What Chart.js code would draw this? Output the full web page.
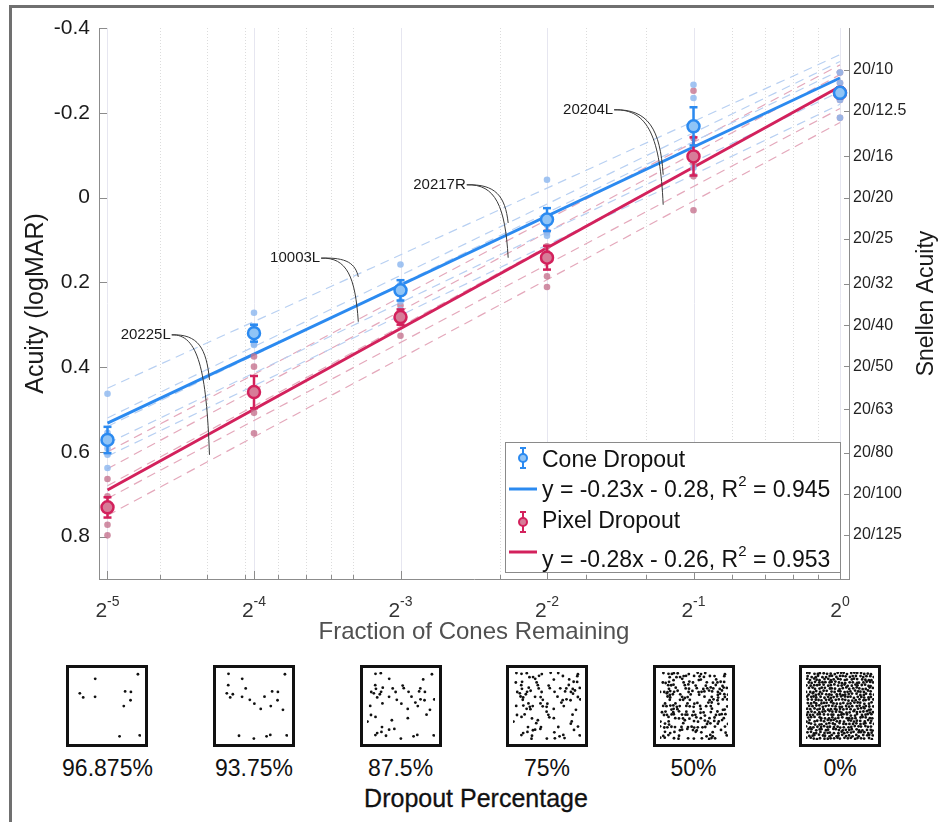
<!DOCTYPE html>
<html>
<head>
<meta charset="utf-8">
<title>Acuity vs cone dropout</title>
<script src="https://cdn.jsdelivr.net/npm/chart.js@4.4.1/dist/chart.umd.min.js"></script>
<style>
  body { margin: 0; background: #fff; }
  #page { position: relative; width: 940px; height: 822px; overflow: hidden; font-family: "Liberation Sans", Arial, sans-serif; }
  #main { position: absolute; left: 0; top: 0; }
  #frameTop { position: absolute; left: 9px; top: 5px; width: 925px; height: 3px; background: #707070; }
  #frameLeft { position: absolute; left: 9px; top: 5px; width: 3px; height: 820px; background: #707070; }
  .tile { position: absolute; top: 665px; border: 3px solid #111; background: #fff; }
  .tile canvas { display: block; }
  .pct { position: absolute; top: 755px; width: 140px; text-align: center; font-size: 23px; line-height: 26px; color: #111; }
  #dropTitle { position: absolute; left: 276px; top: 784px; width: 400px; text-align: center; font-size: 25px; line-height: 28px; color: #111; -webkit-text-stroke: 0.3px #111; }
</style>
</head>
<body>
<div id="page">
  <canvas id="main" width="940" height="660"></canvas>
  <div id="frameTop"></div>
  <div id="frameLeft"></div>
  <div id="tiles"></div>
  <div id="dropTitle">Dropout Percentage</div>
</div>
<script>
"use strict";

// --- data ---
const fractions = [1 / 32, 1 / 16, 1 / 8, 1 / 4, 1 / 2, 1];   // fraction of cones remaining
const xTickExps = [-5, -4, -3, -2, -1, 0];
const minorGrid = [0.04, 0.05, 0.06, 0.07, 0.08, 0.09, 0.1, 0.2, 0.3, 0.4, 0.6, 0.7, 0.8, 0.9];

const yTicks = [-0.4, -0.2, 0, 0.2, 0.4, 0.6, 0.8];
const yTickLabels = ["-0.4", "-0.2", "0", "0.2", "0.4", "0.6", "0.8"];
const snellenLogMAR = [-0.301, -0.204, -0.097, 0, 0.097, 0.204, 0.301, 0.398, 0.5, 0.602, 0.699, 0.796];
const snellenLabels = ["20/10", "20/12.5", "20/16", "20/20", "20/25", "20/32", "20/40", "20/50", "20/63", "20/80", "20/100", "20/125"];

// single-subject acuity (logMAR), one row per fraction
const coneSubj = [
    [0.463, 0.555, 0.592, 0.607, 0.638],
    [0.272, 0.305, 0.330, 0.348, 0.345],
    [0.158, 0.205, 0.220, 0.245, 0.265],
    [-0.042, 0.045, 0.065, 0.083, 0.090],
    [-0.266, -0.235, -0.170, -0.100, -0.070],
    [-0.295, -0.270, -0.250, -0.230, -0.188]
];
const pixelSubj = [
    [0.664, 0.705, 0.725, 0.772, 0.797],
    [0.375, 0.399, 0.460, 0.508, 0.556],
    [0.255, 0.270, 0.280, 0.295, 0.326],
    [0.080, 0.115, 0.130, 0.186, 0.211],
    [-0.252, -0.140, -0.080, -0.050, 0.030],
    [-0.295, -0.270, -0.250, -0.230, -0.188]
];
const coneMean = [0.572, 0.320, 0.219, 0.052, -0.168, -0.247];
const coneErr = [0.031, 0.020, 0.024, 0.027, 0.045, 0.012];
const pixelMean = [0.731, 0.459, 0.282, 0.142, -0.097, -0.247];
const pixelErr = [0.024, 0.038, 0.018, 0.028, 0.045, 0.012];

// fit lines: value at 2^-5 and at 2^0
const coneFit = [0.532, -0.282];
const pixelFit = [0.690, -0.262];
const coneSubjFits = [[0.45, -0.337], [0.52, -0.321], [0.54, -0.300], [0.58, -0.250], [0.61, -0.220]];
const pixelSubjFits = [[0.60, -0.313], [0.64, -0.290], [0.68, -0.260], [0.71, -0.210], [0.75, -0.177]];

const legendNames = ["Cone Dropout", "Pixel Dropout"];
const fitTexts = [["y = -0.23x - 0.28, R", "2", " = 0.945"], ["y = -0.28x - 0.26, R", "2", " = 0.953"]];

// subject call-outs: label at [log2 x, logMAR], arcs to two points
const callouts = [
    { label: "20225L", at: [-4.91, 0.324], to: [[-4.304, 0.430], [-4.304, 0.607]] },
    { label: "10003L", at: [-3.89, 0.143], to: [[-3.288, 0.187], [-3.288, 0.293]] },
    { label: "20217R", at: [-2.913, -0.030], to: [[-2.265, 0.060], [-2.265, 0.142]] },
    { label: "20204L", at: [-1.89, -0.207], to: [[-1.207, -0.054], [-1.207, 0.017]] }
];

const tileDropout = [96.875, 93.75, 87.5, 75, 50, 0];
const tileLabels = ["96.875%", "93.75%", "87.5%", "75%", "50%", "0%"];

// --- styles ---
const FONT = '"Liberation Sans", Arial, sans-serif';
const BLUE = "#2b8af0", BLUE_FILL = "#90c4f6", BLUE_DOT = "rgba(145,186,240,0.85)", BLUE_DASH = "#b8d0f2";
const RED = "#d3215c", RED_FILL = "#d77c98", RED_DOT = "rgba(198,115,142,0.8)", RED_DASH = "#e4a8bb";
Chart.defaults.font.family = FONT;

const meanPts = arr => fractions.map((f, i) => ({ x: f, y: arr[i] }));
const subjPts = rows => fractions.flatMap((f, i) => rows[i].map(v => ({ x: f, y: v })));
const endPts = pair => [{ x: fractions[0], y: pair[0] }, { x: fractions[fractions.length - 1], y: pair[1] }];

function seg(ctx, x1, y1, x2, y2) {
    ctx.beginPath();
    ctx.moveTo(x1, y1);
    ctx.lineTo(x2, y2);
    ctx.stroke();
}

function errIcon(ctx, x, y, color, fill) {
    ctx.strokeStyle = color;
    ctx.lineWidth = 2;
    seg(ctx, x, y - 10, x, y + 10);
    seg(ctx, x - 3, y - 10, x + 3, y - 10);
    seg(ctx, x - 3, y + 10, x + 3, y + 10);
    ctx.beginPath();
    ctx.arc(x, y, 4, 0, Math.PI * 2);
    ctx.fillStyle = fill;
    ctx.fill();
    ctx.stroke();
}

function supText(ctx, parts, x, y) {
    ctx.textAlign = "left";
    ctx.textBaseline = "alphabetic";
    ctx.font = "23px " + FONT;
    ctx.fillText(parts[0], x, y);
    x += ctx.measureText(parts[0]).width;
    ctx.font = "15px " + FONT;
    ctx.fillText(parts[1], x, y - 11);
    x += ctx.measureText(parts[1]).width;
    ctx.font = "23px " + FONT;
    ctx.fillText(parts[2], x, y);
}

const decor = {
    id: "decor",
    beforeDatasetsDraw(chart) {
        const { ctx, chartArea: a, scales: { x, y } } = chart;
        ctx.save();
        ctx.lineWidth = 1;
        // vertical grid
        ctx.strokeStyle = "#dcdcdc";
        ctx.setLineDash([1, 2]);
        minorGrid.forEach(v => {
            const px = Math.round(x.getPixelForValue(v)) + 0.5;
            seg(ctx, px, a.top, px, a.bottom);
        });
        ctx.setLineDash([]);
        ctx.strokeStyle = "#e6e6f0";
        xTickExps.forEach(e => {
            const px = Math.round(x.getPixelForValue(Math.pow(2, e))) + 0.5;
            seg(ctx, px, a.top, px, a.bottom);
        });
        // inward tick marks
        ctx.strokeStyle = "#8c8c8c";
        yTicks.forEach(v => {
            const py = Math.round(y.getPixelForValue(v)) + 0.5;
            seg(ctx, a.left, py, a.left + 8, py);
        });
        snellenLogMAR.forEach(v => {
            const py = Math.round(y.getPixelForValue(v)) + 0.5;
            seg(ctx, a.right - 5, py, a.right, py);
        });
        xTickExps.forEach(e => {
            const px = Math.round(x.getPixelForValue(Math.pow(2, e))) + 0.5;
            seg(ctx, px, a.bottom, px, a.bottom - 8);
        });
        minorGrid.forEach(v => {
            const px = Math.round(x.getPixelForValue(v)) + 0.5;
            seg(ctx, px, a.bottom, px, a.bottom - 4);
        });
        ctx.restore();
    },
    beforeDatasetDraw(chart, args) {
        const ds = chart.data.datasets[args.index];
        if (!ds.errors) return;
        const { ctx, scales: { x, y } } = chart;
        ctx.save();
        ctx.strokeStyle = ds.pointBorderColor;
        ctx.lineWidth = 2.5;
        ds.data.forEach((p, i) => {
            const px = x.getPixelForValue(p.x);
            const y1 = y.getPixelForValue(p.y - ds.errors[i]);
            const y2 = y.getPixelForValue(p.y + ds.errors[i]);
            seg(ctx, px, y1, px, y2);
            seg(ctx, px - 4, y1, px + 4, y1);
            seg(ctx, px - 4, y2, px + 4, y2);
        });
        ctx.restore();
    },
    afterDatasetsDraw(chart) {
        const { ctx, scales: { x, y } } = chart;
        ctx.save();
        ctx.font = "15px " + FONT;
        ctx.textAlign = "left";
        ctx.textBaseline = "middle";
        callouts.forEach(c => {
            const tx = x.getPixelForValue(Math.pow(2, c.at[0]));
            const ty = y.getPixelForValue(c.at[1]);
            ctx.fillStyle = "#1a1a1a";
            ctx.fillText(c.label, tx, ty);
            const sx = tx + ctx.measureText(c.label).width + 1;
            ctx.strokeStyle = "#3a3a3a";
            ctx.lineWidth = 1;
            c.to.forEach(t => {
                const ex = x.getPixelForValue(Math.pow(2, t[0]));
                const ey = y.getPixelForValue(t[1]);
                ctx.beginPath();
                ctx.moveTo(sx, ty);
                ctx.bezierCurveTo(sx + (ex - sx) * 0.7, ty - 1, ex - 3, ty + (ey - ty) * 0.3, ex, ey);
                ctx.stroke();
            });
        });
        ctx.restore();
    },
    afterDraw(chart) {
        const { ctx, chartArea: a, scales: { x } } = chart;
        ctx.save();
        // x tick labels 2^k
        ctx.fillStyle = "#333";
        ctx.textBaseline = "alphabetic";
        ctx.textAlign = "left";
        xTickExps.forEach(e => {
            const px = x.getPixelForValue(Math.pow(2, e));
            ctx.font = "21px " + FONT;
            const wb = ctx.measureText("2").width;
            ctx.font = "14px " + FONT;
            const ws = ctx.measureText(String(e)).width;
            const x0 = px - (wb + ws) / 2;
            ctx.font = "21px " + FONT;
            ctx.fillText("2", x0, a.bottom + 38);
            ctx.font = "14px " + FONT;
            ctx.fillText(String(e), x0 + wb, a.bottom + 27);
        });
        // axis titles
        ctx.textAlign = "center";
        ctx.font = "24px " + FONT;
        ctx.fillStyle = "#505050";
        ctx.fillText("Fraction of Cones Remaining", (a.left + a.right) / 2, a.bottom + 60);
        ctx.fillStyle = "#1a1a1a";
        ctx.font = "25px " + FONT;
        ctx.save();
        ctx.translate(43, (a.top + a.bottom) / 2);
        ctx.rotate(-Math.PI / 2);
        ctx.fillText("Acuity (logMAR)", 0, 0);
        ctx.restore();
        ctx.font = "23px " + FONT;
        ctx.save();
        ctx.translate(933, (a.top + a.bottom) / 2);
        ctx.rotate(-Math.PI / 2);
        ctx.fillText("Snellen Acuity", 0, 0);
        ctx.restore();
        // legend
        ctx.fillStyle = "#fff";
        ctx.fillRect(505.5, 442.5, 335, 130);
        ctx.strokeStyle = "#8a8a8a";
        ctx.lineWidth = 1;
        ctx.strokeRect(505.5, 442.5, 335, 130);
        errIcon(ctx, 523, 458, BLUE, BLUE_FILL);
        errIcon(ctx, 523, 522, RED, RED_FILL);
        ctx.lineWidth = 3;
        ctx.strokeStyle = BLUE;
        seg(ctx, 509, 489, 537, 489);
        ctx.strokeStyle = RED;
        seg(ctx, 509, 552, 537, 552);
        ctx.fillStyle = "#111";
        ctx.font = "23px " + FONT;
        ctx.textAlign = "left";
        ctx.fillText(legendNames[0], 542, 467);
        ctx.fillText(legendNames[1], 542, 528);
        supText(ctx, fitTexts[0], 542, 497);
        supText(ctx, fitTexts[1], 542, 567);
        ctx.restore();
    }
};

const sharedY = {
    type: "linear", reverse: true, min: -0.4, max: 0.9,
    grid: { display: false, drawTicks: false },
    border: { display: true, color: "#8c8c8c", width: 1 }
};

const main = new Chart(document.getElementById("main"), {
    type: "scatter",
    data: {
        datasets: [
            { label: legendNames[0], data: meanPts(coneMean), errors: coneErr, pointRadius: 6,
              pointBackgroundColor: BLUE_FILL, pointBorderColor: BLUE, pointBorderWidth: 2.5, order: 0 },
            { label: legendNames[1], data: meanPts(pixelMean), errors: pixelErr, pointRadius: 6,
              pointBackgroundColor: RED_FILL, pointBorderColor: RED, pointBorderWidth: 2.5, order: 1 },
            { data: subjPts(coneSubj), pointRadius: 3.3, pointBackgroundColor: BLUE_DOT, pointBorderWidth: 0, order: 2 },
            { data: subjPts(pixelSubj), pointRadius: 3.3, pointBackgroundColor: RED_DOT, pointBorderWidth: 0, order: 3 },
            { type: "line", showLine: true, data: endPts(coneFit), borderColor: BLUE, borderWidth: 3, pointRadius: 0, order: 4 },
            { type: "line", showLine: true, data: endPts(pixelFit), borderColor: RED, borderWidth: 3, pointRadius: 0, order: 5 },
            ...coneSubjFits.map(p => ({ type: "line", showLine: true, data: endPts(p), borderColor: BLUE_DASH,
                borderWidth: 1.2, borderDash: [9, 6], pointRadius: 0, order: 6 })),
            ...pixelSubjFits.map(p => ({ type: "line", showLine: true, data: endPts(p), borderColor: RED_DASH,
                borderWidth: 1.2, borderDash: [9, 6], pointRadius: 0, order: 6 }))
        ]
    },
    options: {
        responsive: false,
        animation: false,
        events: [],
        layout: { padding: { top: 28, left: 0, right: 0, bottom: 0 } },
        plugins: { legend: { display: false }, tooltip: { enabled: false } },
        scales: {
            x: {
                type: "logarithmic", position: "bottom", bounds: "data",
                min: Math.pow(2, -5.058), max: Math.pow(2, 0.0614),
                afterBuildTicks: s => { s.ticks = xTickExps.map(e => ({ value: Math.pow(2, e) })); },
                afterFit: s => { s.height = 81; },
                grid: { display: false, drawTicks: false },
                border: { display: true, color: "#8c8c8c", width: 1 },
                ticks: { display: false }
            },
            y: {
                ...sharedY, position: "left",
                afterBuildTicks: s => { s.ticks = yTicks.map(v => ({ value: v })); },
                afterFit: s => { s.width = 99; },
                ticks: { padding: 9, color: "#1a1a1a", font: { size: 21 }, callback: (v, i) => yTickLabels[i] }
            },
            y2: {
                ...sharedY, position: "right",
                afterBuildTicks: s => { s.ticks = snellenLogMAR.map(v => ({ value: v })); },
                afterFit: s => { s.width = 91; },
                ticks: { padding: 4, color: "#222", font: { size: 16 }, callback: (v, i) => snellenLabels[i] }
            }
        }
    },
    plugins: [decor]
});

// --- example mosaics under the axis ---
// texture only: jittered hex lattice, thinned to each dropout level
function hash(n) {
    const s = Math.sin(n * 12.9898 + 78.233) * 43758.5453;
    return s - Math.floor(s);
}
const COLS = 20, ROWS = 23;
const mosaic = [];
for (let r = 0; r < ROWS; r++) {
    for (let c = 0; c < COLS; c++) {
        const k = r * COLS + c;
        mosaic.push({
            x: (c + 0.25 + (r % 2) * 0.5 + (hash(k) - 0.5) * 0.6) / COLS,
            y: (r + 0.5 + (hash(k + 700) - 0.5) * 0.6) / ROWS,
            rank: hash(k + 1400)
        });
    }
}

const tiles = document.getElementById("tiles");
fractions.forEach((f, i) => {
    const cx = main.scales.x.getPixelForValue(f);
    const box = document.createElement("div");
    box.className = "tile";
    box.style.left = (cx - 41) + "px";
    const cv = document.createElement("canvas");
    cv.width = 76;
    cv.height = 76;
    box.appendChild(cv);
    tiles.appendChild(box);

    const keep = 1 - tileDropout[i] / 100;
    new Chart(cv, {
        type: "scatter",
        data: { datasets: [{ data: mosaic.filter(p => p.rank < keep).map(p => ({ x: p.x, y: p.y })),
            pointRadius: 1.4, pointBackgroundColor: "#111", pointBorderWidth: 0 }] },
        options: {
            responsive: false, animation: false, events: [],
            layout: { padding: 0 },
            plugins: { legend: { display: false }, tooltip: { enabled: false } },
            scales: { x: { display: false, min: 0, max: 1 }, y: { display: false, min: 0, max: 1 } }
        }
    });

    const lab = document.createElement("div");
    lab.className = "pct";
    lab.style.left = (cx - 70) + "px";
    lab.textContent = tileLabels[i];
    tiles.appendChild(lab);
});
</script>
</body>
</html>
